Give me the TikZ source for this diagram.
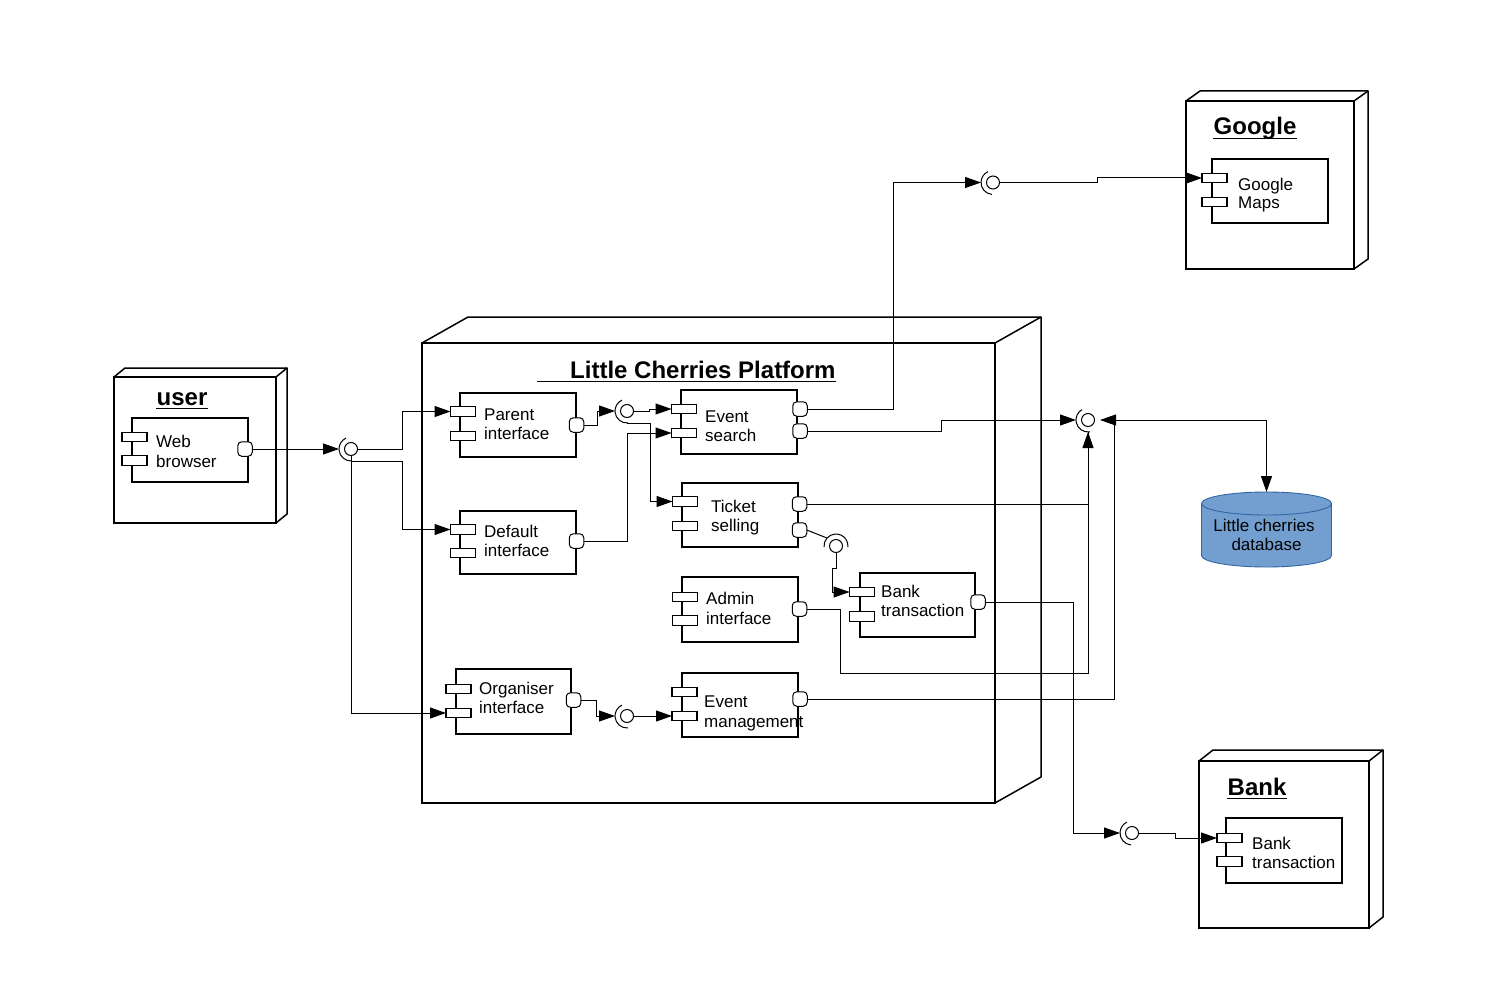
\documentclass[tikz,border=0pt]{standalone}
\usepackage{fontspec}
\setmainfont{Liberation Sans}
\usetikzlibrary{arrows.meta,calc}
\definecolor{dbfill}{HTML}{729FCF}
\definecolor{dbline}{HTML}{3465A4}
\tikzset{
 comp/.style={draw, line width=1.5pt, fill=white, inner sep=0pt, outer sep=0pt},
 lug/.style={draw, line width=1.1pt, fill=white, minimum width=25pt, minimum height=9.5pt, inner sep=0pt, outer sep=0pt},
 port/.style={draw, line width=1pt, fill=white, rounded corners=4pt, minimum size=14.5pt, inner sep=0pt, outer sep=0pt},
 txt/.style={anchor=base west, inner sep=0pt, font=\fontsize{17}{20}\selectfont},
 ttl/.style={anchor=base, inner sep=0pt, font=\bfseries\fontsize{24}{28}\selectfont},
 uline/.style={line width=1.6pt},
 conn/.style={line width=1pt},
 arr/.style={conn, -{Triangle[length=16pt,width=11pt]}},
 sockin/.style={circle, minimum size=24pt, inner sep=0pt, outer sep=0pt},
 sockc/.style={circle, draw, line width=1pt, fill=white, minimum size=13pt, inner sep=0pt, outer sep=0pt},
 sockarc/.style={line width=1pt},
 nodebox/.style={draw, line width=1.5pt, inner sep=0pt, outer sep=0pt},
 nodeedge/.style={line width=1.5pt, line join=round},
}
\newcommand\mysock[5]{%
 \node[sockin] (#1) at (#2,#3) {};
 \draw[sockarc] (#1.center) ++(#4:12) arc[start angle=#4, end angle=#5, radius=12];
 \node[sockc] (#1-c) at (#1.center) {};}
\begin{document}
\begin{tikzpicture}[x=1pt,y=-1pt]
\fill[white] (0,0) rectangle (1506,987);
\useasboundingbox (0,0) rectangle (1506,987);

% ---------- deployment nodes ----------
\node[nodebox, minimum width=162pt, minimum height=146pt] (user) at (195,450) {};
\draw[nodeedge] (user.north west) -- ++(11,-9) -- ++(162,0) -- ++(0,146) -- (user.south east);
\draw[nodeedge] (user.north east) -- ++(11,-9);
\node[ttl] (user-t) at (182,405) {user};
\draw[uline] ($(user-t.base west)+(0,3.5)$) -- ($(user-t.base east)+(0,3.5)$);

\node[nodebox, minimum width=573pt, minimum height=460pt] (lcp) at (708.5,573) {};
\draw[nodeedge] (lcp.north west) -- ++(46,-26) -- ++(573,0) -- ++(0,460) -- (lcp.south east);
\draw[nodeedge] (lcp.north east) -- ++(46,-26);
\node[ttl, anchor=base west] (lcp-t) at (570,378) {Little Cherries Platform};
\draw[uline] (537,381.5) -- ($(lcp-t.base east)+(0,3.5)$);

\node[nodebox, minimum width=168pt, minimum height=168pt] (goo) at (1270,185) {};
\draw[nodeedge] (goo.north west) -- ++(14,-10) -- ++(168,0) -- ++(0,168) -- (goo.south east);
\draw[nodeedge] (goo.north east) -- ++(14,-10);
\node[ttl] (goo-t) at (1255,135) {Google};
\draw[uline] ($(goo-t.base west)+(0,3.5)$) -- ($(goo-t.base east)+(0,3.5)$);

\node[nodebox, minimum width=170pt, minimum height=167pt] (bank) at (1284,844.5) {};
\draw[nodeedge] (bank.north west) -- ++(14,-11) -- ++(170,0) -- ++(0,167) -- (bank.south east);
\draw[nodeedge] (bank.north east) -- ++(14,-11);
\node[ttl] (bank-t) at (1257,795) {Bank};
\draw[uline] ($(bank-t.base west)+(0,3.5)$) -- ($(bank-t.base east)+(0,3.5)$);

% ---------- components ----------
% Web browser
\node[comp, minimum width=116pt, minimum height=64pt] (wb) at (190,450) {};
\node[lug] (wb-a) at (134.5,437) {};
\node[lug] (wb-b) at (134.5,460.5) {};
\node[port] (wb-p) at (245,449) {};
\node[txt] (wb-t1) at (156,447) {Web};
\node[txt] (wb-t2) at (156,467) {browser};

% Parent interface
\node[comp, minimum width=116pt, minimum height=64pt] (pi) at (518,425) {};
\node[lug] (pi-a) at (463,411.5) {};
\node[lug] (pi-b) at (463,436) {};
\node[port] (pi-p) at (576.5,425) {};
\node[txt] (pi-t1) at (484,420) {Parent};
\node[txt] (pi-t2) at (484,439) {interface};

% Default interface
\node[comp, minimum width=116pt, minimum height=63pt] (di) at (518,542.5) {};
\node[lug] (di-a) at (463,529.5) {};
\node[lug] (di-b) at (463,553) {};
\node[port] (di-p) at (576.5,541) {};
\node[txt] (di-t1) at (484,537) {Default};
\node[txt] (di-t2) at (484,556) {interface};

% Event search
\node[comp, minimum width=116pt, minimum height=64pt] (es) at (739,422) {};
\node[lug] (es-a) at (684,409) {};
\node[lug] (es-b) at (684,433) {};
\node[port] (es-p1) at (800,409) {};
\node[port] (es-p2) at (800,431) {};
\node[txt] (es-t1) at (705,422) {Event};
\node[txt] (es-t2) at (705,441) {search};

% Ticket selling
\node[comp, minimum width=116pt, minimum height=64pt] (ts) at (740,515) {};
\node[lug] (ts-a) at (685,501.5) {};
\node[lug] (ts-b) at (685,526) {};
\node[port] (ts-p1) at (799.5,504) {};
\node[port] (ts-p2) at (799.5,530) {};
\node[txt] (ts-t1) at (711,512) {Ticket};
\node[txt] (ts-t2) at (711,531) {selling};

% Admin interface
\node[comp, minimum width=116pt, minimum height=65pt] (ai) at (740,609.5) {};
\node[lug] (ai-a) at (685,597) {};
\node[lug] (ai-b) at (685,620.5) {};
\node[port] (ai-p) at (799.5,609) {};
\node[txt] (ai-t1) at (706,604) {Admin};
\node[txt] (ai-t2) at (706,624) {interface};

% Bank transaction (platform)
\node[comp, minimum width=115pt, minimum height=64pt] (bt) at (917.5,605) {};
\node[lug] (bt-a) at (862,592) {};
\node[lug] (bt-b) at (862,616.5) {};
\node[port] (bt-p) at (978,602) {};
\node[txt] (bt-t1) at (881,597) {Bank};
\node[txt] (bt-t2) at (881,616) {transaction};

% Organiser interface
\node[comp, minimum width=115pt, minimum height=65pt] (oi) at (513.5,701.5) {};
\node[lug] (oi-a) at (458.5,689) {};
\node[lug] (oi-b) at (458.5,713) {};
\node[port] (oi-p) at (573.5,700) {};
\node[txt] (oi-t1) at (479,694) {Organiser};
\node[txt] (oi-t2) at (479,713) {interface};

% Event management
\node[comp, minimum width=116pt, minimum height=64pt] (em) at (740,705) {};
\node[lug] (em-a) at (684.5,692) {};
\node[lug] (em-b) at (684.5,716) {};
\node[port] (em-p) at (800,699) {};
\node[txt] (em-t1) at (704,707) {Event};
\node[txt] (em-t2) at (704,727) {management};

% Google Maps
\node[comp, minimum width=116pt, minimum height=64pt] (gm) at (1270,191) {};
\node[lug] (gm-a) at (1214.5,178) {};
\node[lug] (gm-b) at (1214.5,202) {};
\node[txt] (gm-t1) at (1238,190) {Google};
\node[txt] (gm-t2) at (1238,208) {Maps};

% Bank transaction (Bank)
\node[comp, minimum width=116pt, minimum height=65pt] (bk) at (1284,850.5) {};
\node[lug] (bk-a) at (1229.5,838) {};
\node[lug] (bk-b) at (1229.5,861.5) {};
\node[txt] (bk-t1) at (1252,849) {Bank};
\node[txt] (bk-t2) at (1252,868) {transaction};

% Database
\fill[dbfill] (1201.5,503.5) -- (1201.5,555.5) arc[start angle=180, end angle=0, x radius=65, y radius=11.5]
  -- (1331.5,503.5) arc[start angle=0, end angle=-180, x radius=65, y radius=11.5] -- cycle;
\draw[dbline, line width=0.9pt] (1201.5,503.5) -- (1201.5,555.5) arc[start angle=180, end angle=0, x radius=65, y radius=11.5]
  -- (1331.5,503.5) arc[start angle=0, end angle=-180, x radius=65, y radius=11.5];
\draw[dbline, line width=0.9pt] (1201.5,503.5) arc[start angle=180, end angle=0, x radius=65, y radius=11.5];
\coordinate (dbtop) at (1266.5,492);
\node[txt, anchor=base] (db-t1) at (1264,531) {Little cherries};
\node[txt, anchor=base] (db-t2) at (1266.5,550) {database};

% ---------- sockets ----------
\mysock{sU}{351}{449}{85}{245}
\mysock{sE}{627}{411}{85}{245}
\mysock{sO}{627}{716}{85}{245}
\mysock{sT}{836}{546}{175}{365}
\mysock{sDB}{1088}{420}{80}{240}
\mysock{sG}{993}{182.5}{95}{245}
\mysock{sB}{1132}{833}{95}{245}

% ---------- connectors ----------
\draw[arr] (wb-p.east) -- (sU.west);
\draw[arr] (sU-c.east) -- ++(45,0) |- (pi-a.west);
\draw[arr] (sU-c.south) |- (oi-b.west);
\draw[arr] (sU-c.south) ++(0,6) -- ++(51,0) |- (di-a.west);

\draw[arr] (pi-p.east) -- ++(14,0) |- (sE.west);
\draw[arr] (sE-c.east) -- ++(16,0) |- (es-a.west);
\draw[arr] ($(sE.center)+(0,12)$) -- ++(23,0) |- (ts-a.west);
\draw[arr] (di-p.east) -- ++(44,0) |- (es-b.west);

\draw[arr] (es-p1.east) -- ++(86,0) |- (sG.west);
\draw[arr] (sG-c.east) -- ++(98,0) |- (gm-a.west);

\draw[arr] (es-p2.east) -- ++(134,0) |- (sDB.west);
\draw[conn] (ai-p.east) -- ++(33.5,0) -- ++(0,64) -| (sDB.south);
\draw[arr] (ts-p1.east) -| (sDB.south);
\draw[arr] (em-p.east) -- ++(307,0) |- (sDB.east);
\draw[arr] ($(sDB.east)+(14,0)$) -| (dbtop);

\draw[conn] (ts-p2.east) -- ($(sT.center)+(-9,-8)$);
\draw[arr] (sT-c.south) -- ++(0,15.5) -- ++(-4,0) |- (bt-a.west);
\draw[arr] (bt-p.east) -- ++(88,0) |- (sB.west);
\draw[arr] (sB-c.east) -- ++(37,0) |- (bk-a.west);

\draw[arr] (oi-p.east) -- ++(16,0) |- (sO.west);
\draw[arr] (sO-c.east) -- (em-b.west);
\end{tikzpicture}
\end{document}
